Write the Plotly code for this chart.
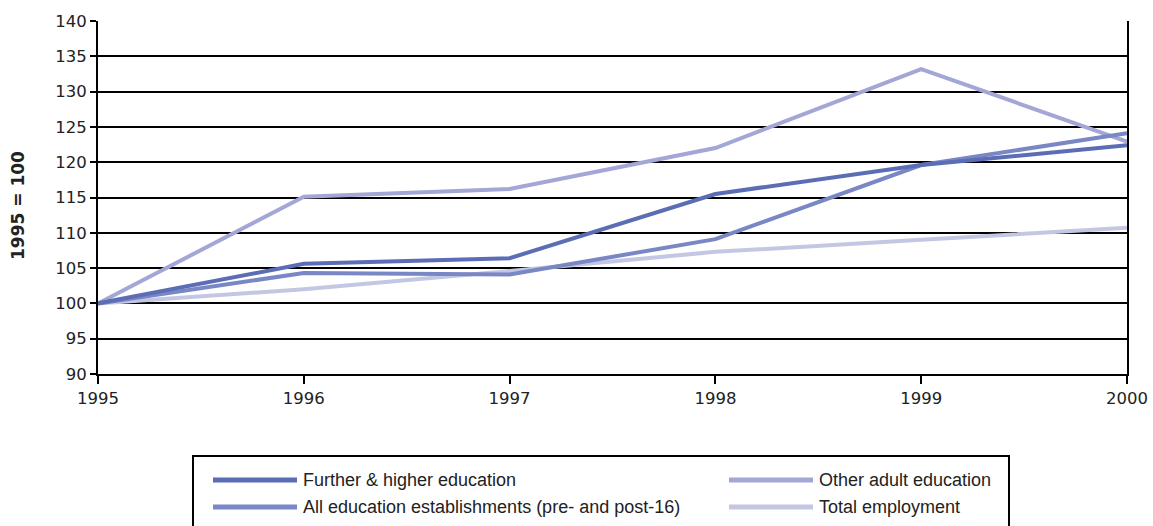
import plotly.graph_objects as go

years = [1995, 1996, 1997, 1998, 1999, 2000]
further_higher = [100, 105.6, 106.4, 115.5, 119.6, 122.4]
other_adult = [100, 115.1, 116.2, 122.0, 133.2, 122.9]
all_education = [100, 104.3, 104.1, 109.1, 119.6, 124.1]
total_employment = [100, 102.0, 104.6, 107.3, 109.0, 110.7]

series_names = [
    "Further & higher education",
    "Other adult education",
    "All education establishments (pre- and post-16)",
    "Total employment",
]
series_values = [further_higher, other_adult, all_education, total_employment]
colors = ["#5b6db4", "#a3a7d5", "#7a87c5", "#c4c7e4"]
y_ticks = list(range(90, 141, 5))

fig = go.Figure()
order = [3, 1, 2, 0]
for i in order:
    fig.add_trace(go.Scatter(x=years, y=series_values[i], mode="lines",
                             name=series_names[i],
                             line=dict(color=colors[i], width=4),
                             showlegend=False))

W, H = 1153, 526
L, R, T, B = 98, 26, 21, 526 - 374

tick_font = dict(family="DejaVu Sans, sans-serif", size=16.5, color="#222")
fig.update_layout(
    width=W, height=H,
    margin=dict(l=L, r=R, t=T, b=B, autoexpand=False),
    plot_bgcolor="white", paper_bgcolor="white",
    xaxis=dict(range=[1995, 2000], tickvals=years, ticktext=[str(y) for y in years],
               showgrid=False, showline=True, linecolor="black", linewidth=2,
               ticks="outside", ticklen=8, tickwidth=2, tickcolor="black",
               tickfont=tick_font, zeroline=False, automargin=False),
    yaxis=dict(range=[90, 140], tickvals=y_ticks, showgrid=True, gridcolor="black",
               gridwidth=2, showline=True, linecolor="black", linewidth=2, mirror=True,
               ticks="outside", ticklen=6, tickwidth=2, tickcolor="black",
               tickfont=tick_font, zeroline=False, automargin=False),
)

plot_h = 374 - 21
plot_w = 1127 - 98

def py(p):
    return (374 - p) / plot_h

def px(p):
    return (p - 98) / plot_w

# y-axis title
fig.add_annotation(xref="paper", yref="paper", x=px(18), y=py(206),
                   text="<b>1995 = 100</b>", textangle=-90, showarrow=False,
                   xanchor="center", yanchor="middle",
                   font=dict(family="DejaVu Sans, sans-serif", size=17, color="#222"))

# legend box
fig.add_shape(type="rect", xref="paper", yref="paper",
              x0=px(193), x1=px(1009), y0=py(456), y1=py(540),
              line=dict(color="black", width=2), fillcolor="white", layer="below")

legend_pos = [(213, 480), (729, 480), (213, 507), (729, 507)]
leg_font = dict(family="Liberation Sans, Arial, sans-serif", size=18, color="#222")
for (lx, ly), name, col in zip(legend_pos, series_names, colors):
    fig.add_shape(type="line", xref="paper", yref="paper",
                  x0=px(lx), x1=px(lx + 84), y0=py(ly), y1=py(ly),
                  line=dict(color=col, width=5))
    fig.add_annotation(xref="paper", yref="paper", x=px(lx + 88), y=py(ly),
                       text=name, showarrow=False, xanchor="left", yanchor="middle",
                       font=leg_font)

fig.write_html("out.html", config={"displayModeBar": False},
               post_script="document.body.style.margin='0';document.body.style.overflow='hidden';")
